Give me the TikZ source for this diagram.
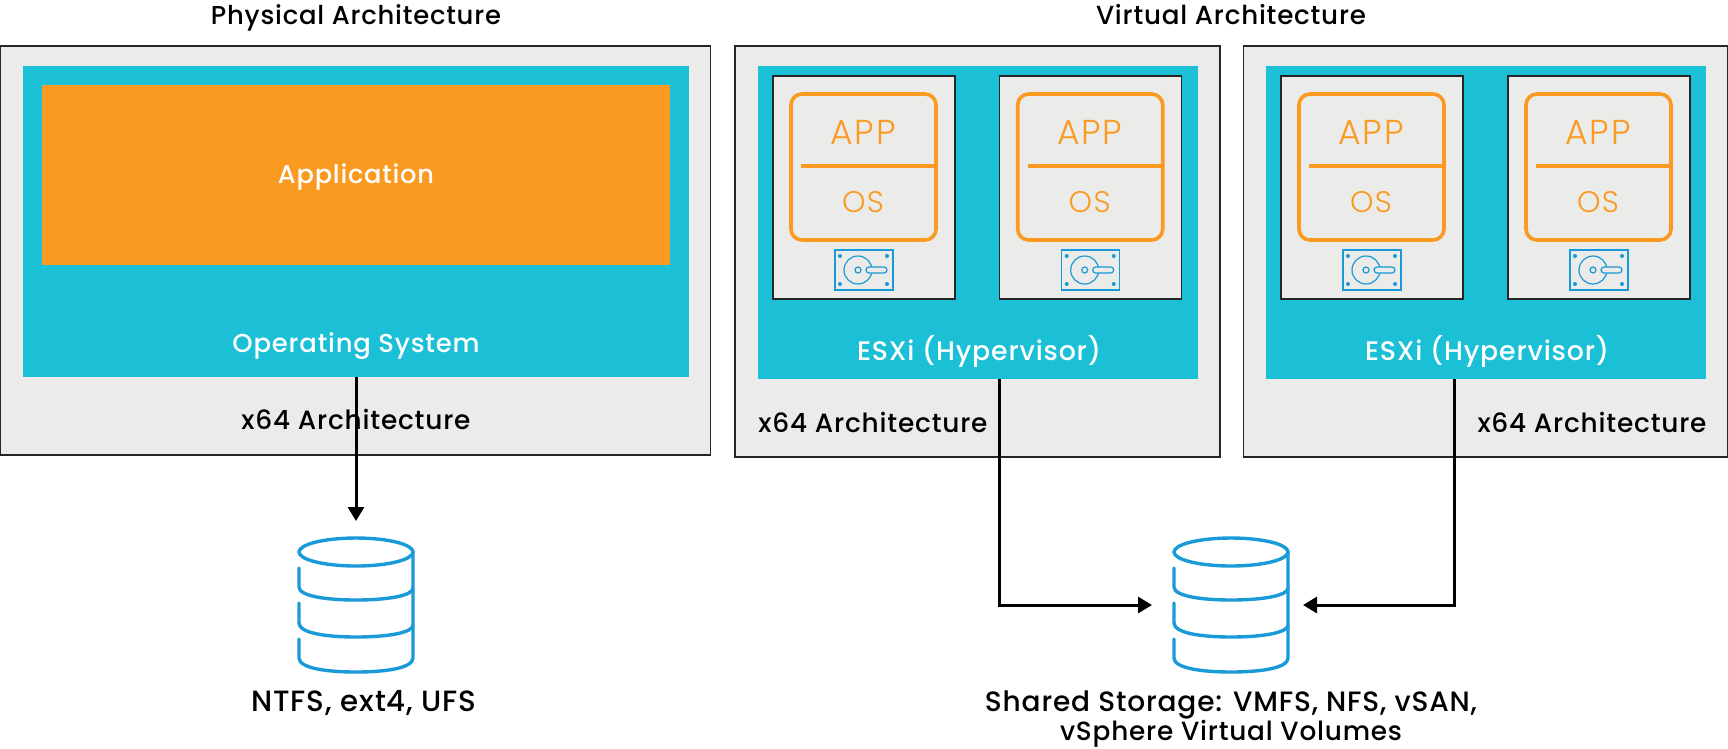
\documentclass[tikz,border=0pt]{standalone}
\usepackage{graphicx}
\usepackage{fontspec}
\setmainfont{Poppins}[UprightFont=* Medium,LetterSpace=3]
\newfontfamily\appfont{Poppins}[UprightFont=* Light,LetterSpace=5]
\usetikzlibrary{arrows.meta,calc}
\definecolor{frameg}{HTML}{EBEBE9}
\definecolor{tealc}{HTML}{1BBFD6}
\definecolor{orangec}{HTML}{FB9A20}
\definecolor{bluec}{HTML}{1A9AD6}
\newcommand{\fitw}[2]{\resizebox{#1pt}{!}{#2}}
\tikzset{
  x=1pt,y=-1pt,
  panel/.style={draw=black!85,line width=1.4pt,fill=frameg,anchor=north west,inner sep=0pt,outer sep=0pt},
  layer/.style={fill=tealc,anchor=north west,inner sep=0pt,outer sep=0pt},
  lab/.style={anchor=base,inner sep=0pt,text=black},
  whitelab/.style={anchor=base,inner sep=0pt,text=white},
  apptext/.style={anchor=base,inner sep=0pt,text=orangec,font=\appfont},
  link/.style={line width=3pt,black,-{Triangle[length=14pt,width=16pt]}},
  vm/.pic={
    \node[panel,minimum width=182pt,minimum height=223pt] (-box) at (0,0) {};
    \draw[orangec,line width=3.6pt,rounded corners=11pt] (18,18) rectangle (163,164);
    \draw[orangec,line width=3.6pt] (28,90) -- (163,90);
    \node[apptext] (-app) at (90,68) {\fitw{65}{APP}};
    \node[apptext] (-os) at (90,136) {\fitw{42}{OS}};
    \draw[bluec,line width=1.2pt] (62,174) rectangle (120,214);
    \draw[bluec,line width=1.2pt] (85,194) circle[radius=14];
    \draw[bluec,line width=1.2pt] (85,194) circle[radius=3];
    \draw[bluec,line width=1.2pt,rounded corners=3pt,fill=frameg] (93,191) rectangle (114,197);
    \foreach \a/\b in {67/180,114/180,67/208,114/208}
      \fill[bluec] (\a,\b) circle[radius=2];
  },
  cyl/.pic={
    \draw[bluec,line width=3.4pt] (0,0) ellipse[x radius=57,y radius=14];
    \draw[bluec,line width=3.4pt,line cap=round] (57,0) -- (57,106)
       .. controls (57,116) and (30,120) .. (0,120) .. controls (-30,120) and (-57,116) .. (-57,106) -- (-57,87);
    \draw[bluec,line width=3.4pt,line cap=round] (57,73)
       .. controls (57,81) and (30,85) .. (0,85) .. controls (-30,85) and (-57,81) .. (-57,71) -- (-57,51);
    \draw[bluec,line width=3.4pt,line cap=round] (57,36)
       .. controls (57,44) and (30,48) .. (0,48) .. controls (-30,48) and (-57,44) .. (-57,35) -- (-57,16);
  }
}
\begin{document}
\begin{tikzpicture}
\useasboundingbox (0,0) rectangle (1728,748);
% titles
\node[lab] (t1) at (356,24) {\fitw{290}{Physical Architecture}};
\node[lab] (t2) at (1231,24) {\fitw{270}{Virtual Architecture}};
% physical
\node[panel,minimum width=710pt,minimum height=409pt] (pp) at (0.7,46) {};
\node[layer,minimum width=666pt,minimum height=311pt] (pos) at (23,66) {};
\node[anchor=north west,inner sep=0pt,fill=orangec,minimum width=628pt,minimum height=180pt] (papp) at (42,85) {};
\node[whitelab] (appl) at (356,183) {\fitw{156}{Application}};
\node[whitelab] (post) at (356,352) {\fitw{247}{Operating System}};
\node[lab] (px) at (356,429) {\fitw{229}{x64 Architecture}};
% virtual left
\node[panel,minimum width=485pt,minimum height=411pt] (v1) at (735,46) {};
\node[layer,minimum width=440pt,minimum height=313pt] (e1) at (758,66) {};
\pic (a) at (773,76) {vm};
\pic (b) at (999.7,76) {vm};
\node[whitelab] (e1t) at (979,360) {\fitw{244}{ESXi (Hypervisor)}};
\node[lab] (x1) at (873,432) {\fitw{229}{x64 Architecture}};
% virtual right
\node[panel,minimum width=484pt,minimum height=411pt] (v2) at (1243.3,46) {};
\node[layer,minimum width=440pt,minimum height=313pt] (e2) at (1266,66) {};
\pic (c) at (1281,76) {vm};
\pic (d) at (1508,76) {vm};
\node[whitelab] (e2t) at (1487,360) {\fitw{244}{ESXi (Hypervisor)}};
\node[lab] (x2) at (1592,432) {\fitw{229}{x64 Architecture}};
% storage
\pic (s1) at (356,552) {cyl};
\pic (s2) at (1231,552) {cyl};
\coordinate (s1top) at (356,521);
\coordinate (s2l) at (1152,605);
\coordinate (s2r) at (1303,605);
\coordinate (e2out) at (1454.5,379);
\node[lab] (s1t) at (364,711) {\fitw{225}{NTFS, ext4, UFS}};
\node[lab] (s2t) at (1231,711) {\fitw{492}{Shared Storage: VMFS, NFS, vSAN,}};
\node[lab] (s2u) at (1231,740) {\fitw{342}{vSphere Virtual Volumes}};
% connectors
\draw[link] (pos.south) -- (s1top);
\draw[link] (b-box.west |- e1.south) |- (s2l);
\draw[link] (e2out) |- (s2r);
\end{tikzpicture}
\end{document}
